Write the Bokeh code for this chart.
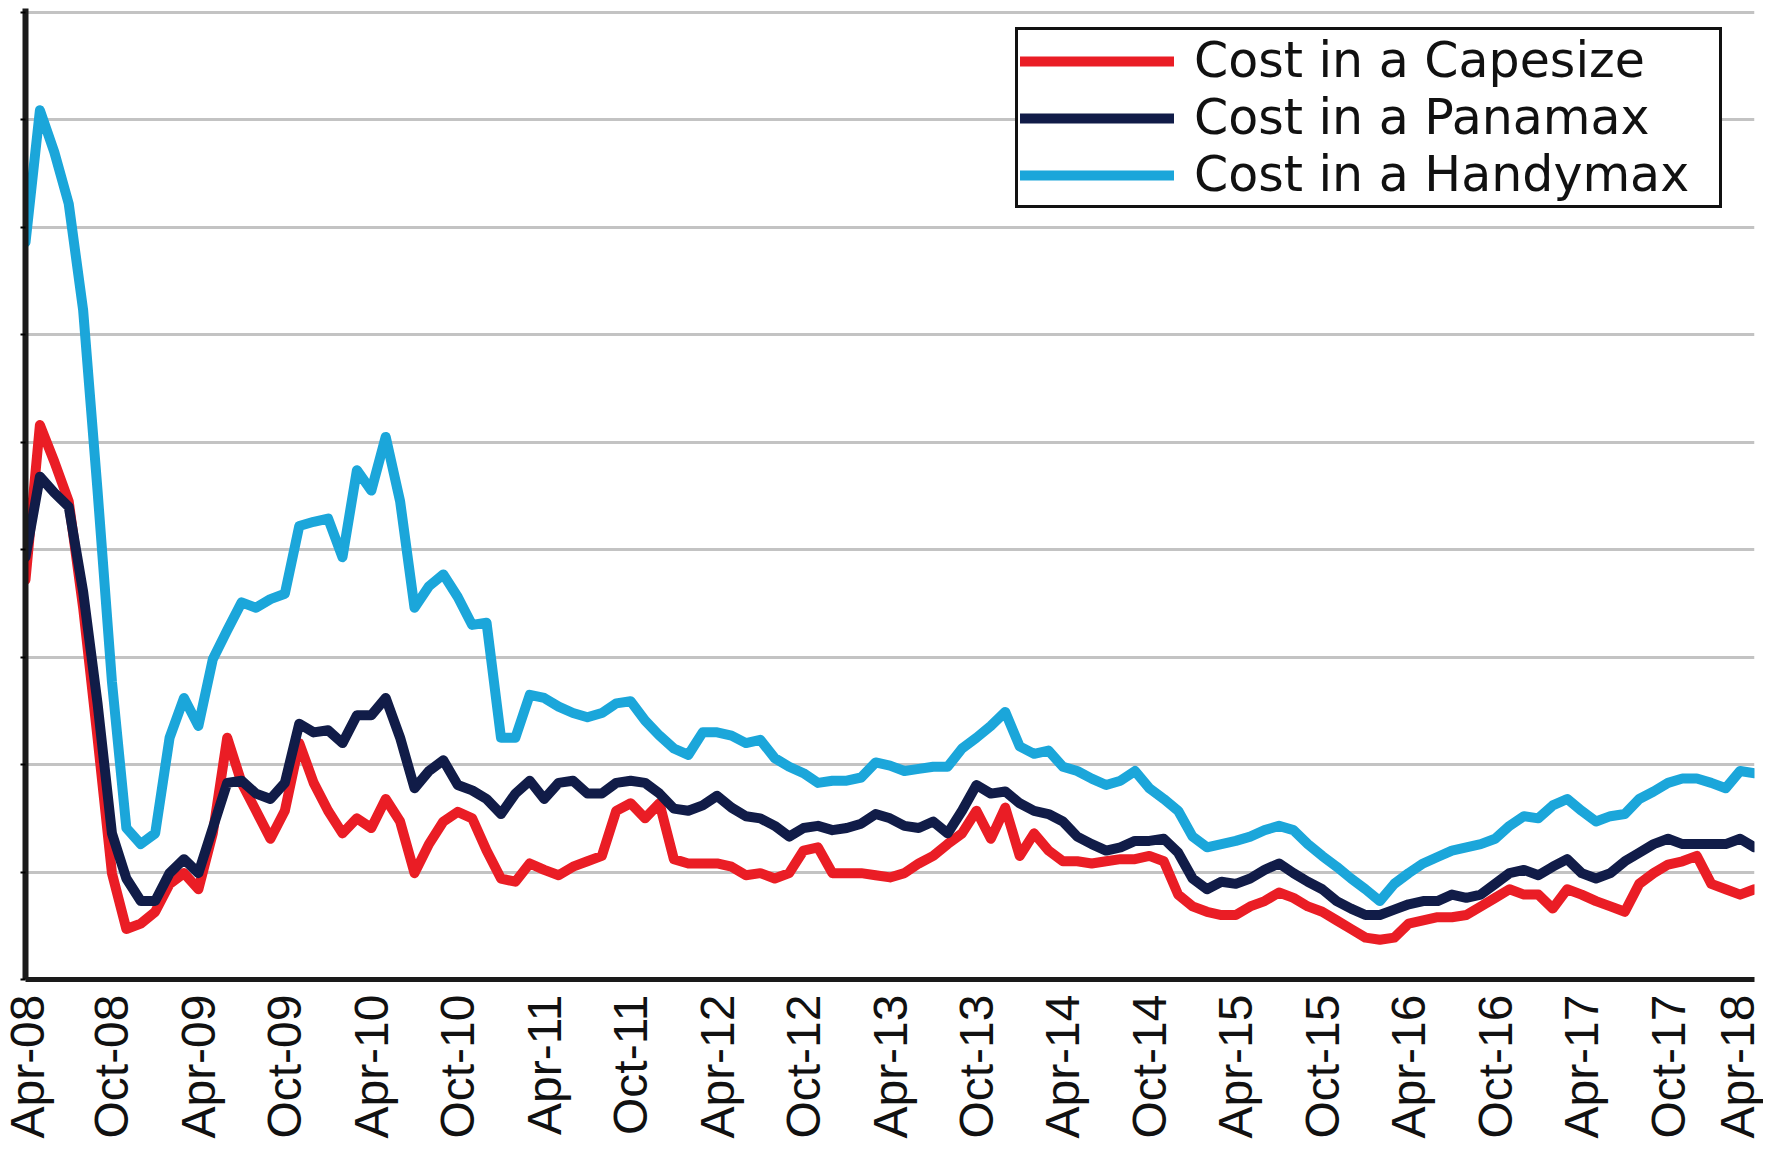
import math
from bokeh.plotting import figure
from bokeh.models import FixedTicker, Legend, LegendItem
from bokeh.embed import file_html
from bokeh.resources import INLINE

# Monthly observations, Apr-08 .. Apr-18 (121 months)
capesize = [
    37.2, 51.6, 48.2, 44.5, 34.6, 22.5, 9.9, 4.7, 5.2, 6.3, 8.9, 9.9,
    8.4, 13.6, 22.5, 18.3, 15.7, 13.1, 15.7, 22.0, 18.3, 15.7, 13.6, 15.0,
    14.1, 16.8, 14.7, 9.9, 12.6, 14.7, 15.6, 15.0, 12.0, 9.4, 9.1, 10.8,
    10.2, 9.7, 10.5, 11.0, 11.5, 15.7, 16.4, 15.0, 16.4, 11.2, 10.8, 10.8,
    10.8, 10.5, 9.7, 9.9, 9.4, 9.9, 12.0, 12.3, 9.9, 9.9, 9.9, 9.7,
    9.5, 9.9, 10.8, 11.5, 12.6, 13.6, 15.7, 13.1, 16.0, 11.5, 13.6, 12.0,
    11.0, 11.0, 10.8, 11.0, 11.2, 11.2, 11.5, 11.0, 7.9, 6.8, 6.3, 6.0,
    6.0, 6.8, 7.3, 8.1, 7.6, 6.8, 6.3, 5.5, 4.7, 3.9, 3.7, 3.9,
    5.2, 5.5, 5.8, 5.8, 6.0, 6.8, 7.6, 8.4, 7.9, 7.9, 6.6, 8.4,
    7.9, 7.3, 6.8, 6.3, 8.9, 9.9, 10.7, 11.0, 11.5, 8.9, 8.4, 7.9,
    8.4,
]
panamax = [
    39.3, 46.8, 45.3, 44.0, 36.1, 25.7, 13.6, 9.4, 7.3, 7.3, 9.9, 11.2,
    9.9, 14.1, 18.3, 18.5, 17.3, 16.8, 18.3, 23.8, 23.0, 23.2, 22.0, 24.6,
    24.6, 26.2, 22.5, 17.8, 19.4, 20.4, 18.1, 17.6, 16.8, 15.4, 17.3, 18.5,
    16.8, 18.3, 18.5, 17.3, 17.3, 18.3, 18.5, 18.3, 17.3, 15.9, 15.7, 16.2,
    17.1, 16.0, 15.2, 15.0, 14.3, 13.3, 14.1, 14.3, 13.9, 14.1, 14.5, 15.4,
    15.0, 14.3, 14.1, 14.7, 13.6, 15.7, 18.1, 17.3, 17.5, 16.4, 15.7, 15.4,
    14.7, 13.3, 12.6, 12.0, 12.3, 12.9, 12.9, 13.1, 11.8, 9.4, 8.4, 9.1,
    8.9, 9.4, 10.2, 10.8, 9.9, 9.1, 8.4, 7.3, 6.6, 6.0, 6.0, 6.5,
    7.0, 7.3, 7.3, 7.9, 7.6, 7.9, 8.9, 9.9, 10.2, 9.7, 10.5, 11.2,
    9.9, 9.4, 9.9, 11.0, 11.8, 12.6, 13.1, 12.6, 12.6, 12.6, 12.6, 13.1,
    12.3,
]
handymax = [
    68.6, 80.9, 77.0, 72.2, 62.3, 45.5, 27.7, 14.1, 12.6, 13.6, 22.5, 26.2,
    23.6, 29.8, 32.5, 35.1, 34.6, 35.4, 35.9, 42.2, 42.6, 42.9, 39.3, 47.4,
    45.5, 50.5, 44.5, 34.6, 36.6, 37.7, 35.6, 33.0, 33.2, 22.5, 22.5, 26.5,
    26.2, 25.4, 24.8, 24.4, 24.8, 25.7, 25.9, 24.1, 22.7, 21.5, 20.9, 23.0,
    23.0, 22.7, 22.0, 22.3, 20.6, 19.8, 19.2, 18.3, 18.5, 18.5, 18.8, 20.2,
    19.9, 19.4, 19.6, 19.8, 19.8, 21.5, 22.5, 23.6, 24.9, 21.7, 21.0, 21.3,
    19.8, 19.4, 18.7, 18.1, 18.5, 19.4, 17.8, 16.8, 15.7, 13.3, 12.3, 12.6,
    12.9, 13.3, 13.9, 14.3, 13.9, 12.6, 11.5, 10.5, 9.4, 8.4, 7.3, 8.9,
    9.9, 10.8, 11.4, 12.0, 12.3, 12.6, 13.1, 14.3, 15.2, 15.0, 16.2, 16.8,
    15.7, 14.7, 15.2, 15.4, 16.8, 17.5, 18.3, 18.7, 18.7, 18.3, 17.8, 19.4,
    19.2,
]
tick_labels = ["Apr-08", "Oct-08", "Apr-09", "Oct-09", "Apr-10", "Oct-10",
               "Apr-11", "Oct-11", "Apr-12", "Oct-12", "Apr-13", "Oct-13",
               "Apr-14", "Oct-14", "Apr-15", "Oct-15", "Apr-16", "Oct-16",
               "Apr-17", "Oct-17", "Apr-18"]
series_names = ["Cost in a Capesize", "Cost in a Panamax", "Cost in a Handymax"]
y_grid_values = [0, 10, 20, 30, 40, 50, 60, 70, 80, 90]

months = list(range(len(capesize)))
tick_pos = [i * 6 for i in range(len(tick_labels))]

p = figure(width=1763, height=1141, x_range=(0, 120), y_range=(0, 90.37),
           output_backend="svg", toolbar_location=None,
           min_border_left=25, min_border_right=9,
           min_border_top=8, min_border_bottom=160)
p.outline_line_color = None
p.background_fill_color = "white"

colors = ["#ea1d25", "#111c48", "#1ba6da"]
renderers = []
for ys, c in zip([capesize, panamax, handymax], colors):
    r = p.line(months, ys, line_color=c, line_width=10, line_join="round",
               line_cap="round")
    renderers.append(r)

p.xgrid.visible = False
p.ygrid.grid_line_color = "#c3c3c3"
p.ygrid.grid_line_width = 3
p.yaxis.ticker = FixedTicker(ticks=y_grid_values)
p.yaxis.major_label_overrides = {v: "" for v in y_grid_values}
p.yaxis.axis_line_width = 6
p.yaxis.axis_line_color = "#1a1a1a"
p.yaxis.major_tick_out = 5
p.yaxis.major_tick_in = 0
p.yaxis.major_tick_line_width = 2
p.yaxis.minor_tick_line_color = None
p.yaxis.major_label_standoff = 0

p.xaxis.ticker = FixedTicker(ticks=tick_pos)
p.xaxis.major_label_overrides = {pos: lab for pos, lab in zip(tick_pos, tick_labels)}
p.xaxis.major_label_orientation = math.pi / 2
p.xaxis.axis_line_width = 5
p.xaxis.axis_line_color = "#1a1a1a"
p.xaxis.major_tick_out = 0
p.xaxis.major_tick_in = 0
p.xaxis.minor_tick_line_color = None
p.xaxis.major_label_standoff = 15
p.xaxis.major_label_text_font = "Liberation Sans"
p.xaxis.major_label_text_font_size = "48px"
p.xaxis.major_label_text_color = "#111111"

legend = Legend(items=[LegendItem(label=n, renderers=[r]) for n, r in zip(series_names, renderers)],
                location=(990, 771))
legend.margin = 0
legend.padding = 2
legend.spacing = 0
legend.label_height = 20
legend.glyph_height = 20
legend.glyph_width = 154
legend.label_standoff = 20
legend.label_width = 523
legend.label_text_font = "DejaVu Sans"
legend.label_text_font_size = "49px"
legend.label_text_color = "#111111"
legend.border_line_color = "#111111"
legend.border_line_alpha = 1.0
legend.border_line_width = 3
legend.background_fill_color = "white"
legend.background_fill_alpha = 1.0
p.add_layout(legend, "center")

open("out.html", "w").write(file_html(p, INLINE))
